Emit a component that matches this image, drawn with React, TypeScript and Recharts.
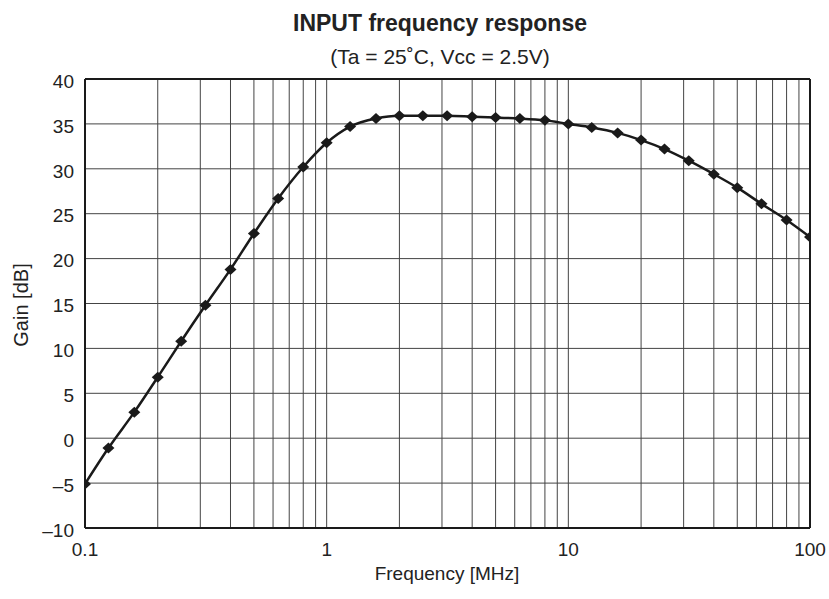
import React from "react"
import { LineChart, Line, XAxis, YAxis, CartesianGrid, ReferenceLine } from "recharts"

const freqs = [
  0.1, 0.125, 0.16, 0.2, 0.25, 0.315, 0.4, 0.5, 0.63, 0.8,
  1, 1.25, 1.6, 2, 2.5, 3.15, 4, 5, 6.3, 8,
  10, 12.5, 16, 20, 25, 31.5, 40, 50, 63, 80, 100,
]
const gain = [
  -5.1, -1.1, 2.9, 6.8, 10.8, 14.8, 18.8, 22.8, 26.7, 30.2,
  32.9, 34.7, 35.6, 35.9, 35.9, 35.9, 35.8, 35.7, 35.6, 35.4,
  35.0, 34.6, 34.0, 33.2, 32.2, 30.9, 29.4, 27.9, 26.1, 24.3, 22.4,
]
const xTicks = [0.1, 1, 10, 100]
const yTicks = [-10, -5, 0, 5, 10, 15, 20, 25, 30, 35, 40]
const minorX = [
  0.2, 0.3, 0.4, 0.5, 0.6, 0.7, 0.8, 0.9,
  2, 3, 4, 5, 6, 7, 8, 9,
  20, 30, 40, 50, 60, 70, 80, 90,
]

const data = freqs.map((f, i) => ({ f, g: gain[i] }))

const font = "'Liberation Sans', Arial, Helvetica, sans-serif"
const ink = "#222"

const Diamond = (props: any) => {
  const { cx, cy } = props
  if (cx == null || cy == null) return null
  return (
    <polygon
      points={`${cx},${cy - 5.5} ${cx + 6},${cy} ${cx},${cy + 5.5} ${cx - 6},${cy}`}
      fill="#1a1a1a"
    />
  )
}

const XTick = (props: any) => {
  const { x, y, payload } = props
  return (
    <text x={x} y={y} dy="0.71em" textAnchor="middle" fill={ink} fontSize={19} fontFamily={font}>
      {payload.value}
    </text>
  )
}

const YTick = (props: any) => {
  const { x, y, payload } = props
  const v = payload.value
  return (
    <text x={x} y={y} dy={8.7} textAnchor="end" fill={ink} fontSize={19} fontFamily={font}>
      {v < 0 ? "\u2013" + Math.abs(v) : String(v)}
    </text>
  )
}

export default function App() {
  return (
    <div style={{ position: "absolute", left: 0, top: 0, width: 829, height: 599, background: "#fff", fontFamily: font }}>
      <div style={{ position: "absolute", top: 10, left: 0, width: 829, paddingLeft: 51, boxSizing: "border-box", textAlign: "center", fontWeight: "bold", fontSize: 23, color: ink }}>
        INPUT frequency response
      </div>
      <div style={{ position: "absolute", top: 45, left: 0, width: 829, paddingLeft: 51, boxSizing: "border-box", textAlign: "center", fontSize: 21, color: ink }}>
        (Ta = 25˚C, Vcc = 2.5V)
      </div>
      <div style={{ position: "absolute", top: 563, left: 0, width: 829, paddingLeft: 65, boxSizing: "border-box", textAlign: "center", fontSize: 19, color: ink }}>
        Frequency [MHz]
      </div>
      <div style={{ position: "absolute", left: 21, top: 305, transform: "translate(-50%, -50%) rotate(-90deg)", fontSize: 20, color: ink, whiteSpace: "nowrap" }}>
        Gain [dB]
      </div>
      <div style={{ position: "absolute", left: 0, top: 0 }}>
        <LineChart width={829} height={599} data={data} margin={{ top: 79, right: 19, bottom: 41, left: 0 }}>
          <CartesianGrid vertical={false} stroke="#444" strokeWidth={1} />
          {minorX.map((v) => (
            <ReferenceLine key={v} x={v} stroke="#444" strokeWidth={1} />
          ))}
          {xTicks.slice(1, 3).map((v) => (
            <ReferenceLine key={"m" + v} x={v} stroke="#444" strokeWidth={1} />
          ))}
          <ReferenceLine y={40} stroke="#1a1a1a" strokeWidth={2} />
          <ReferenceLine x={100} stroke="#1a1a1a" strokeWidth={2} />
          <XAxis
            dataKey="f"
            type="number"
            scale="log"
            domain={[0.1, 100]}
            ticks={xTicks}
            allowDataOverflow
            tickLine={false}
            axisLine={{ stroke: "#1a1a1a", strokeWidth: 2 }}
            tick={<XTick />}
            tickMargin={9}
            height={30}
          />
          <YAxis
            type="number"
            domain={[-10, 40]}
            ticks={yTicks}
            tickLine={false}
            axisLine={{ stroke: "#1a1a1a", strokeWidth: 2 }}
            tick={<YTick />}
            tickMargin={5}
            width={85}
          />
          <Line
            type="monotone"
            dataKey="g"
            stroke="#1a1a1a"
            strokeWidth={2.5}
            dot={<Diamond />}
            activeDot={false}
            isAnimationActive={false}
          />
        </LineChart>
      </div>
    </div>
  )
}
